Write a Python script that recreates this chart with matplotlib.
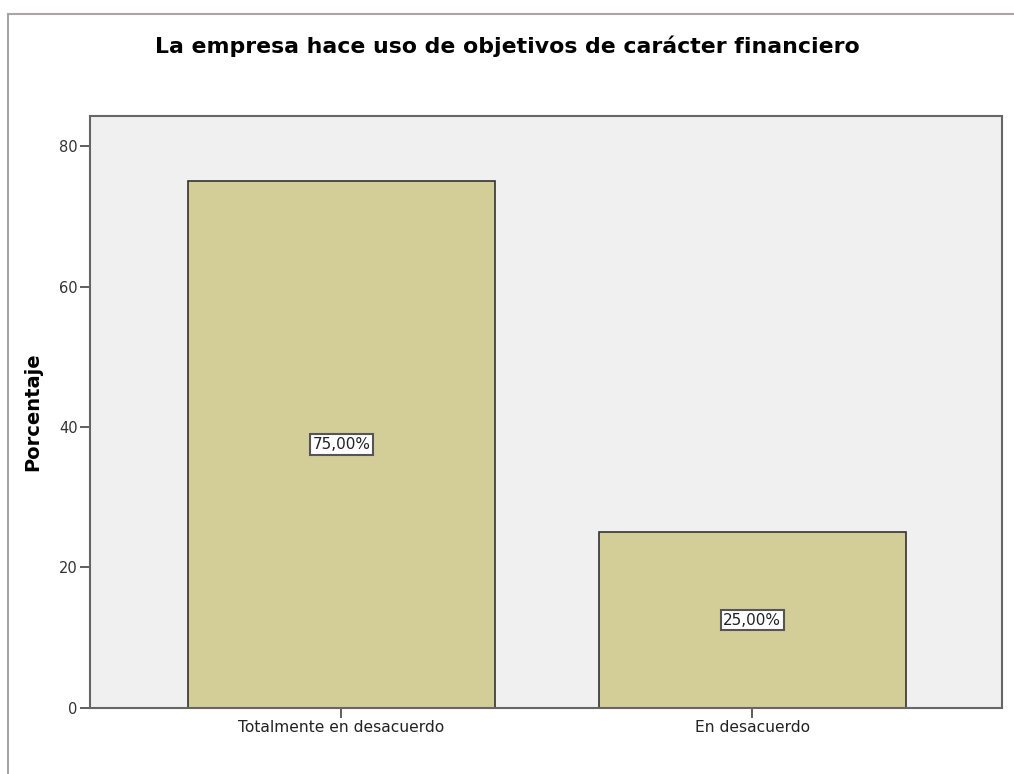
import matplotlib.pyplot as plt
from matplotlib.lines import Line2D

# Data
categorias = ["Totalmente en desacuerdo", "En desacuerdo"]
porcentajes = [75.0, 25.0]
etiquetas = ["75,00%", "25,00%"]
yticks = [0, 20, 40, 60, 80]

fig = plt.figure(figsize=(10.14, 7.74), dpi=100)
ax = fig.add_axes([0.0888, 0.0853, 0.8996, 0.7648])
ax.set_facecolor("#f0f0f0")

x = range(len(categorias))
ax.bar(x, porcentajes, width=0.748, color="#d3ce97", edgecolor="#333333", linewidth=1.2, zorder=2)

# value labels in the middle of each bar
for xi, val, lab in zip(x, porcentajes, etiquetas):
    ax.text(xi, val / 2, lab, ha="center", va="center", fontsize=11, color="#222222",
            bbox=dict(boxstyle="square,pad=0.17", facecolor="white", edgecolor="#555555", linewidth=1.5),
            zorder=3)

ax.set_xlim(-0.612, 1.609)
ax.set_ylim(0, 84.27)
ax.set_xticks(list(x))
ax.set_xticklabels(categorias, fontsize=11.2, color="#222222")
ax.set_yticks(yticks)
ax.set_yticklabels([str(t) for t in yticks], fontsize=10.5, color="#333333")
ax.tick_params(axis="both", direction="out", length=7, width=1.2, color="#444444", pad=2)
for s in ax.spines.values():
    s.set_color("#666666")
    s.set_linewidth(1.5)

ax.set_ylabel("Porcentaje", fontsize=14, fontweight="bold", labelpad=12)
fig.text(0.5, 0.94, "La empresa hace uso de objetivos de carácter financiero",
         ha="center", va="center", fontsize=15.8, fontweight="bold")

# outer frame (only top and left visible in original)
fig.add_artist(Line2D([8 / 1014, 1], [1 - 14 / 774, 1 - 14 / 774], color="#aaa5a5", linewidth=1.5))
fig.add_artist(Line2D([8 / 1014, 8 / 1014], [0, 1 - 14 / 774], color="#aaa5a5", linewidth=1.5))

plt.savefig("out.png", dpi=100)
